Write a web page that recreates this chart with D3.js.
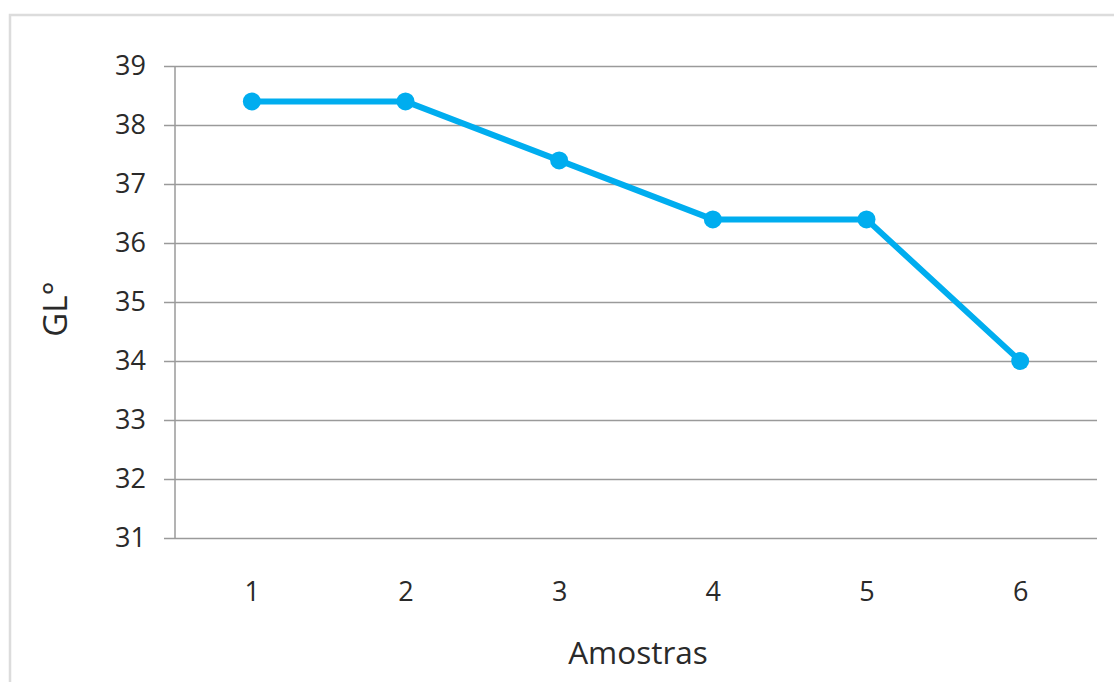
<!DOCTYPE html>
<html>
<head>
<meta charset="utf-8">
<script src="https://cdn.jsdelivr.net/npm/d3@7"></script>
<style>
  html, body { margin: 0; padding: 0; background: #fff; }
  svg { display: block; }
  text { font-family: "Open Sans", "Noto Sans", sans-serif; fill: #2a2a2a; }
</style>
</head>
<body>
<svg id="chart" width="1114" height="682"></svg>
<script>
// Sample numbers and alcohol content (GL°)
const amostras = ["1", "2", "3", "4", "5", "6"];
const glValues = [38.4, 38.4, 37.4, 36.4, 36.4, 34.0];
const yTicks = [31, 32, 33, 34, 35, 36, 37, 38, 39];

const svg = d3.select("#chart");
const W = 1114, H = 682;
const margin = { left: 175, right: 17, top: 66, bottom: 144 };

// Light frame around the chart area
svg.append("path")
  .attr("d", `M10,${H} L10,15 L${W},15`)
  .attr("fill", "none")
  .attr("stroke", "#dcdcdc")
  .attr("stroke-width", 2.5);

const x = d3.scalePoint()
  .domain(amostras)
  .range([margin.left, W - margin.right])
  .padding(0.5);

const y = d3.scaleLinear()
  .domain([31, 39])
  .range([H - margin.bottom, margin.top]);

// Horizontal gridlines with short tick stubs to the left of the axis
const yAxis = d3.axisLeft(y)
  .tickValues(yTicks)
  .tickSize(-(W - margin.right - margin.left) - 11)
  .tickPadding(18)
  .tickFormat(d3.format("d"));

const gy = svg.append("g")
  .attr("transform", `translate(${margin.left - 11},0)`)
  .call(yAxis);
gy.select(".domain").remove();
gy.selectAll(".tick line")
  .attr("stroke", "#9a9a9a")
  .attr("stroke-width", 1.5)
  .attr("x1", 0)
  .attr("x2", W - margin.right - margin.left + 11);
gy.selectAll(".tick text")
  .attr("x", -18)
  .style("font-size", "27px");

// Vertical axis line
svg.append("line")
  .attr("x1", margin.left).attr("x2", margin.left)
  .attr("y1", y(39)).attr("y2", y(31))
  .attr("stroke", "#9a9a9a")
  .attr("stroke-width", 1.5);

// Category labels along the bottom
const xAxis = d3.axisBottom(x).tickSize(0).tickPadding(0);
const gx = svg.append("g")
  .attr("transform", `translate(0,${y(31)})`)
  .call(xAxis);
gx.select(".domain").remove();
gx.selectAll(".tick text")
  .attr("y", 63)
  .attr("dy", 0)
  .style("font-size", "27px");

// Axis titles
svg.append("text")
  .attr("x", 638)
  .attr("y", 664)
  .attr("text-anchor", "middle")
  .style("font-size", "31.5px")
  .text("Amostras");

svg.append("text")
  .attr("transform", "translate(67,309) rotate(-90)")
  .attr("text-anchor", "middle")
  .style("font-size", "33px")
  .text("GL°");

// Data line and markers
const line = d3.line()
  .x((d, i) => x(amostras[i]))
  .y(d => y(d));

svg.append("path")
  .datum(glValues)
  .attr("d", line)
  .attr("fill", "none")
  .attr("stroke", "#00adef")
  .attr("stroke-width", 6)
  .attr("stroke-linejoin", "round");

svg.selectAll("circle.pt")
  .data(glValues)
  .join("circle")
  .attr("class", "pt")
  .attr("cx", (d, i) => x(amostras[i]))
  .attr("cy", d => y(d))
  .attr("r", 9)
  .attr("fill", "#00adef");
</script>
</body>
</html>
